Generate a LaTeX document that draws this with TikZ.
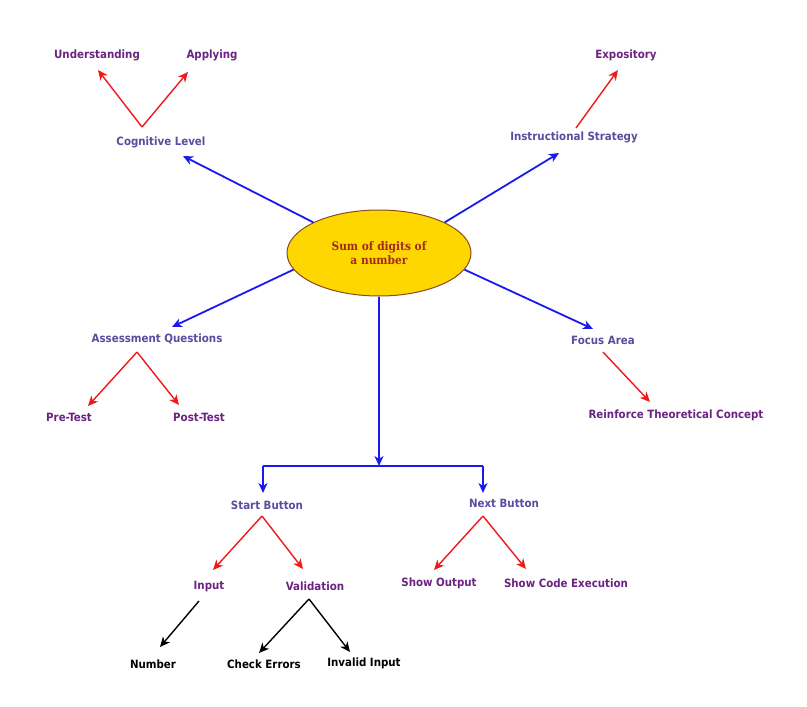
\documentclass[tikz,border=0pt]{standalone}
\usepackage{fontspec}
\setmainfont{DejaVu Sans Condensed}
\newfontfamily\hubserif{DejaVu Serif Condensed}
\usetikzlibrary{shapes.geometric,arrows.meta,calc}

\definecolor{hubtext}{HTML}{5A4C9E}
\definecolor{leaftext}{HTML}{6A2381}
\definecolor{rootfill}{HTML}{FFD700}
\definecolor{rootline}{HTML}{8B4A1E}
\definecolor{roottext}{HTML}{A02A1A}
\definecolor{linkblue}{HTML}{1A1AF0}
\definecolor{linkred}{HTML}{F01818}

\tikzset{
  label base/.style={font=\bfseries\fontsize{11.4}{13}\selectfont, inner sep=1pt},
  hub/.style={label base, text=hubtext},
  leaf/.style={label base, text=leaftext},
  twig/.style={label base, text=black},
  rootnode/.style={ellipse, draw=rootline, line width=1pt, fill=rootfill,
    minimum width=184pt, minimum height=86pt, inner sep=0pt, align=center,
    text=roottext, font=\hubserif\bfseries\fontsize{11.8}{14}\selectfont},
  tip/.style={-{Stealth[length=10pt,width=9pt,inset=3pt]}},
  bluelink/.style={draw=linkblue, line width=1.8pt},
  bluearrow/.style={bluelink, tip},
  redarrow/.style={draw=linkred, line width=1.4pt, tip},
  blackarrow/.style={draw=black, line width=1.4pt, tip},
}

\begin{document}
\begin{tikzpicture}[x=1pt,y=-1pt]
\useasboundingbox (0,0) rectangle (807,707);

% central topic
\node[rootnode] (root) at (379,253) {Sum of digits of\\a number};

% first-level topics
\node[hub] (cog)    at (161,142) {Cognitive Level};
\node[hub] (instr)  at (574,137) {Instructional Strategy};
\node[hub] (assess) at (157,339) {Assessment Questions};
\node[hub] (focus)  at (603,340) {Focus Area};
\node[hub] (startb) at (267,505) {Start Button};
\node[hub] (nextb)  at (504,503) {Next Button};

% second-level topics
\node[leaf] (under)  at (97,55)   {Understanding};
\node[leaf] (apply)  at (212,55)  {Applying};
\node[leaf] (expos)  at (626,55)  {Expository};
\node[leaf] (pre)    at (69,417)  {Pre-Test};
\node[leaf] (post)   at (199,417) {Post-Test};
\node[leaf] (reinf)  at (676,415) {Reinforce Theoretical Concept};
\node[leaf] (input)  at (209,587) {Input};
\node[leaf] (valid)  at (315,586) {Validation};
\node[leaf] (showout) at (439,583) {Show Output};
\node[leaf] (showcode) at (566,583) {Show Code Execution};

% third-level topics
\node[twig] (number) at (153,664) {Number};
\node[twig] (check)  at (264,664) {Check Errors};
\node[twig] (invalid) at (364,663) {Invalid Input};

% branches out of the central topic
\draw[bluearrow] (root.155) -- ($(cog.center)+(22,14)$);
\draw[bluearrow] (root.25)  -- ($(instr.center)+(-15,16)$);
\draw[bluearrow] (root.191) -- ($(assess.center)+(15,-12)$);
\draw[bluearrow] (root.349) -- ($(focus.center)+(-10,-11)$);

% fork down to the two buttons
\coordinate (fork)  at (379,466);
\coordinate (forkL) at (263,466);
\coordinate (forkR) at (483,466);
\draw[bluearrow] (root.south) -- (fork);
\draw[bluelink] (forkL) -- (forkR);
\draw[bluearrow] (forkL) -- ($(startb.center)+(-4,-12)$);
\draw[bluearrow] (forkR) -- ($(nextb.center)+(-21,-10)$);

% cognitive level
\draw[redarrow] ($(cog.center)+(-19,-15)$) -- ($(under.center)+(1,15)$);
\draw[redarrow] ($(cog.center)+(-19,-15)$) -- ($(apply.center)+(-24,17)$);

% instructional strategy
\draw[redarrow] ($(instr.center)+(2,-9)$) -- ($(expos.center)+(-8,15)$);

% assessment questions
\draw[redarrow] ($(assess.center)+(-20,13)$) -- ($(pre.center)+(19,-11)$);
\draw[redarrow] ($(assess.center)+(-20,13)$) -- ($(post.center)+(-20,-12)$);

% focus area
\draw[redarrow] ($(focus.center)+(0,12)$) -- ($(reinf.center)+(-26,-13)$);

% start button
\draw[redarrow] ($(startb.center)+(-5,11)$) -- ($(input.center)+(4,-17)$);
\draw[redarrow] ($(startb.center)+(-5,11)$) -- ($(valid.center)+(-12,-17)$);

% next button
\draw[redarrow] ($(nextb.center)+(-21,13)$) -- ($(showout.center)+(-5,-13)$);
\draw[redarrow] ($(nextb.center)+(-21,13)$) -- ($(showcode.center)+(-40,-14)$);

% input and validation details
\draw[blackarrow] ($(input.center)+(-10,14)$) -- ($(number.center)+(7,-17)$);
\draw[blackarrow] ($(valid.center)+(-6,13)$) -- ($(check.center)+(-5,-11)$);
\draw[blackarrow] ($(valid.center)+(-6,13)$) -- ($(invalid.center)+(-14,-11)$);
\end{tikzpicture}
\end{document}
